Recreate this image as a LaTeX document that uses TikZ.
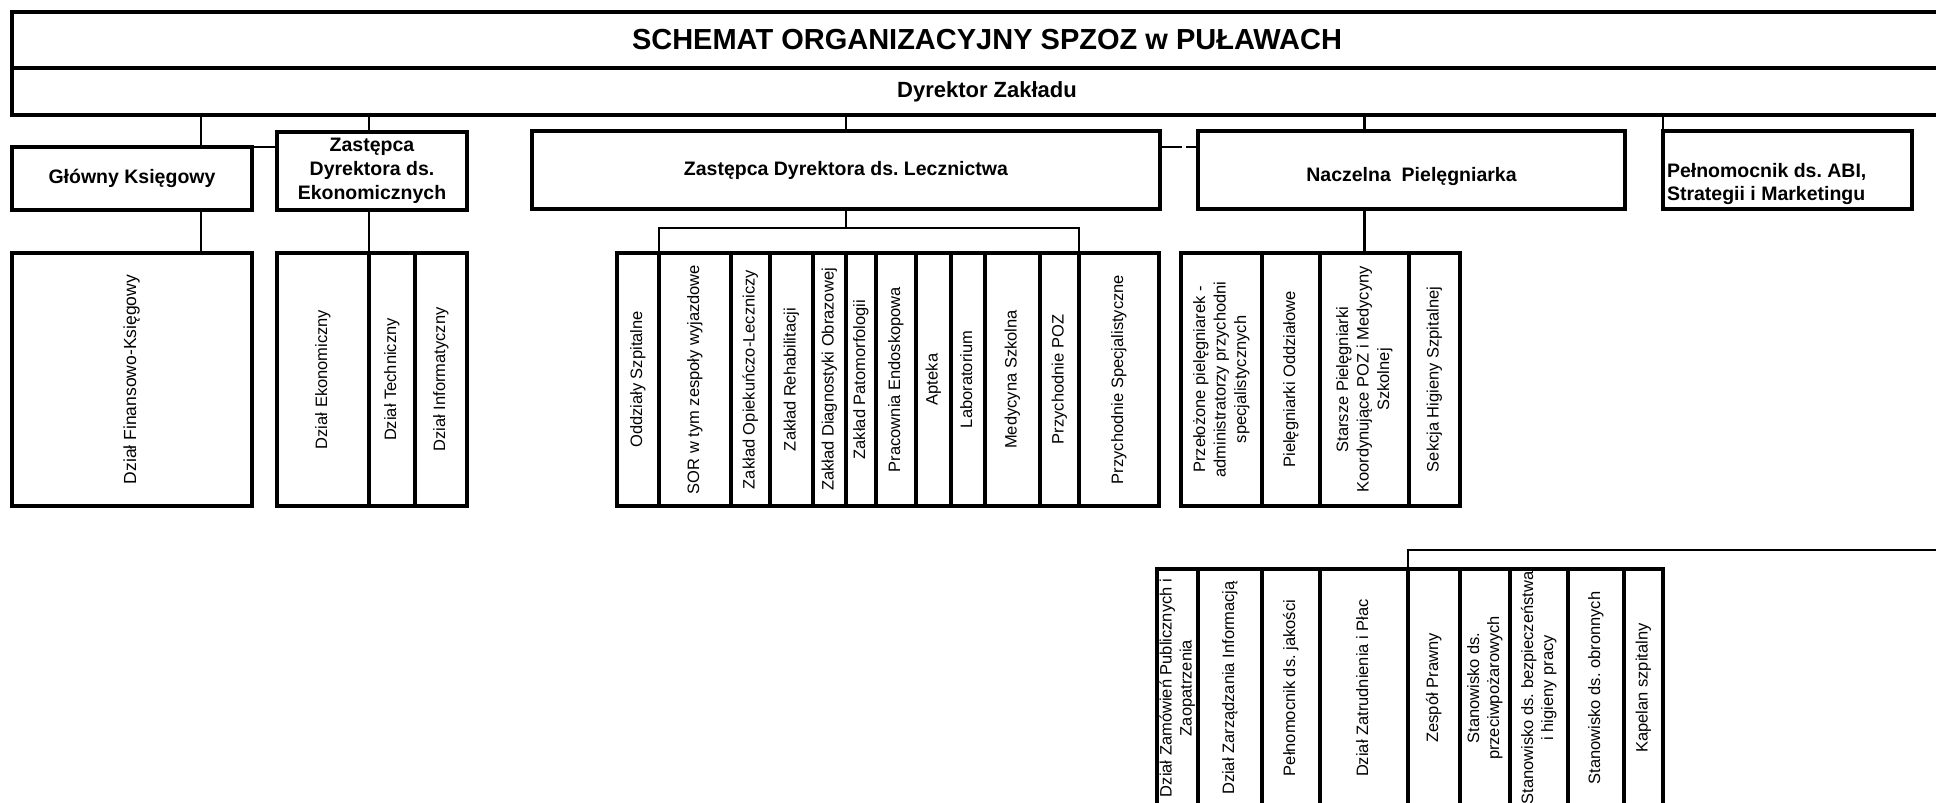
\documentclass[tikz,border=0pt]{standalone}
\usepackage{fontspec}
\setmainfont{Liberation Sans}
\usepackage{graphicx}
\frenchspacing
\newcommand{\vlab}[1]{\rotatebox{90}{\begin{tabular}{@{}c@{}}#1\end{tabular}}}
\tikzset{
  box/.style={draw,rectangle,line width=4pt,inner sep=0pt,outer sep=0pt},
  conn/.style={line width=2.4pt},
  headtext/.style={font=\fontsize{19.5}{24}\selectfont\bfseries},
  lowcol/.style={box,minimum height=253pt,font=\fontsize{16.5}{20.5}\selectfont},
  botcol/.style={box,minimum height=238pt,font=\fontsize{16.5}{20}\selectfont},
}
\begin{document}
\begin{tikzpicture}[x=1pt,y=-1pt]
  \useasboundingbox (0,0) rectangle (1936,803);
  \clip (0,0) rectangle (1936,803);

  % naglowek
  \node[box,minimum width=1950pt,minimum height=56pt,
  font=\fontsize{29}{34}\selectfont\bfseries] (title) at (987,40)
  {SCHEMAT ORGANIZACYJNY SPZOZ w PUŁAWACH};
  \node[box,minimum width=1950pt,minimum height=47pt,
  font=\fontsize{22}{26}\selectfont\bfseries] (dyr) at (987,91.5)
  {Dyrektor Zakładu};

  % pierwszy poziom
  \node[box,headtext,minimum width=240pt,minimum height=63pt] (gk) at (132,178.5)
  {Główny Księgowy};
  \node[box,headtext,align=center,minimum width=190pt,minimum height=78pt] (zde) at (372,170.5)
  {Zastępca\\Dyrektora ds.\\Ekonomicznych};
  \node[box,headtext,minimum width=628pt,minimum height=78pt] (zdl) at (846,170)
  {Zastępca Dyrektora ds. Lecznictwa};
  \node[box,headtext,minimum width=427pt,minimum height=78pt] (np) at (1411.5,170)
  {\raisebox{-6pt}[\height][\depth]{Naczelna\ \ Pielęgniarka}};
  \node[box,font=\fontsize{19.5}{23}\selectfont\bfseries,minimum width=249pt,
  minimum height=78pt] (pelnom) at (1787.5,169.5)
  {\makebox[241pt][l]{\raisebox{-15pt}[\height][\depth]{\begin{tabular}{@{}l@{}}Pełnomocnik ds. ABI,\\Strategii i Marketingu\end{tabular}}}};

  % komorki pod ksiegowym i z-ca ekonomicznym
  \node[lowcol,minimum width=240pt,font=\fontsize{17.5}{21}\selectfont] (fin) at (132,379.5)
  {\vlab{Dział Finansowo-Księgowy}};
  \node[lowcol,minimum width=92pt] (ek) at (323,379.5) {\vlab{Dział Ekonomiczny}};
  \node[lowcol,minimum width=46pt] (tech) at (392,379.5) {\vlab{Dział Techniczny}};
  \node[lowcol,minimum width=52pt] (inf) at (441,379.5) {\vlab{Dział Informatyczny}};

  % komorki pod z-ca ds. lecznictwa
  \node[lowcol,minimum width=42pt] (oddz) at (638,379.5) {\vlab{Oddziały Szpitalne}};
  \node[lowcol,minimum width=72pt] (sor) at (695,379.5) {\vlab{SOR w tym zespoły wyjazdowe}};
  \node[lowcol,minimum width=39pt] (zol) at (750.5,379.5) {\vlab{Zakład Opiekuńczo-Leczniczy}};
  \node[lowcol,minimum width=43pt] (reh) at (791.5,379.5) {\vlab{Zakład Rehabilitacji}};
  \node[lowcol,minimum width=33pt] (diag) at (829.5,379.5) {\vlab{Zakład Diagnostyki Obrazowej}};
  \node[lowcol,minimum width=30pt] (pato) at (861,379.5) {\vlab{Zakład Patomorfologii}};
  \node[lowcol,minimum width=40pt] (endo) at (896,379.5) {\vlab{Pracownia Endoskopowa}};
  \node[lowcol,minimum width=35pt] (apt) at (933.5,379.5) {\vlab{Apteka}};
  \node[lowcol,minimum width=34pt] (lab) at (968,379.5) {\vlab{Laboratorium}};
  \node[lowcol,minimum width=55pt] (med) at (1012.5,379.5) {\vlab{Medycyna Szkolna}};
  \node[lowcol,minimum width=39pt] (poz) at (1059.5,379.5) {\vlab{Przychodnie POZ}};
  \node[lowcol,minimum width=80pt] (spec) at (1119,379.5) {\vlab{Przychodnie Specjalistyczne}};

  % komorki pod naczelna pielegniarka
  \node[lowcol,minimum width=81pt] (prz) at (1221.5,379.5)
  {\vlab{Przełożone pielęgniarek -\\administratorzy przychodni\\specjalistycznych}};
  \node[lowcol,minimum width=58pt] (piel) at (1291,379.5) {\vlab{Pielęgniarki Oddziałowe}};
  \node[lowcol,minimum width=89pt] (star) at (1364.5,379.5)
  {\vlab{Starsze Pielęgniarki\\Koordynujące POZ i Medycyny\\Szkolnej}};
  \node[lowcol,minimum width=51pt] (sek) at (1434.5,379.5) {\vlab{Sekcja Higieny Szpitalnej}};

  % dolny rzad stanowisk
  \node[botcol,minimum width=41pt] (zam) at (1177.5,688)
  {\vlab{Dział Zamówień Publicznych i\\Zaopatrzenia}};
  \node[botcol,minimum width=64pt] (zarz) at (1230,688) {\vlab{Dział Zarządzania Informacją}};
  \node[botcol,minimum width=58pt] (jak) at (1291,688) {\vlab{Pełnomocnik ds. jakości}};
  \node[botcol,minimum width=88pt] (zatr) at (1364,688) {\vlab{Dział Zatrudnienia i Płac}};
  \node[botcol,minimum width=52pt] (praw) at (1434,688) {\vlab{Zespół Prawny}};
  \node[botcol,minimum width=50pt] (ppoz) at (1485,688)
  {\vlab{Stanowisko ds.\\przeciwpożarowych}};
  \node[botcol,minimum width=58pt] (bhp) at (1539,688)
  {\vlab{Stanowisko ds. bezpieczeństwa\\i higieny pracy}};
  \node[botcol,minimum width=56pt] (obr) at (1596,688) {\vlab{Stanowisko ds. obronnych}};
  \node[botcol,minimum width=39pt] (kap) at (1643.5,688) {\vlab{Kapelan szpitalny}};

  % polaczenia
  \coordinate (gkx) at (201,0);
  \coordinate (zdlbar) at (846,228);
  \coordinate (botbar) at (1960,550);
  \draw[conn] (gkx |- dyr.south) -- (gkx |- gk.north);
  \draw[conn] (gkx |- gk.south) -- (gkx |- fin.north);
  \draw[conn] (gk.north east) -- (gk.north east -| zde.west);
  \draw[conn] (ek.east |- dyr.south) -- (ek.east |- zde.north);
  \draw[conn] (ek.east |- zde.south) -- (ek.north east);
  \draw[conn] (zdl.north |- dyr.south) -- (zdl.north);
  \draw[conn] (zdl.south) -- (zdlbar);
  \draw[conn] (oddz.north east) |- (zdlbar) -| (poz.north east);
  \draw[conn,dash pattern=on 22pt off 4pt] ([yshift=-16pt]zdl.north east) -- ([yshift=-16pt]np.north west);
  \draw[conn] (star.north |- dyr.south) -- (star.north |- np.north);
  \draw[conn] (star.north |- np.south) -- (star.north);
  \draw[conn] (pelnom.north west |- dyr.south) -- (pelnom.north west);
  \draw[conn] (praw.north west) |- (botbar);
\end{tikzpicture}
\end{document}
